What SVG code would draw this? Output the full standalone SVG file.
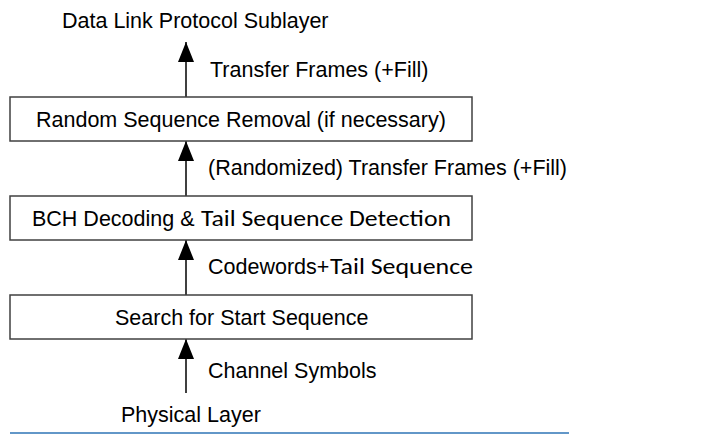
<svg xmlns="http://www.w3.org/2000/svg" width="718" height="434" viewBox="0 0 718 434">
<style>
  .box { fill: #ffffff; stroke: #404040; stroke-width: 1.5; }
  .t { font-family: "Liberation Sans", Arial, sans-serif; font-size: 21.5px; fill: #000000; }
  .c { font-family: Carlito, "Open Sans", "Noto Sans", sans-serif; font-size: 22px; fill: #000000; }
  .line { stroke: #000000; stroke-width: 1.5; fill: none; }
</style>
<defs>
  <marker id="ah" viewBox="0 0 20 16" refX="20" refY="8" markerWidth="20" markerHeight="16" markerUnits="userSpaceOnUse" orient="auto">
    <path d="M0,0 L20,8 L0,16 Z" fill="#000000"/>
  </marker>
</defs>
<rect width="718" height="434" fill="#ffffff"/>
<g id="connectors">
  <line class="line" x1="186" y1="97" x2="186" y2="42" marker-end="url(#ah)"/>
  <line class="line" x1="186" y1="196" x2="186" y2="141" marker-end="url(#ah)"/>
  <line class="line" x1="186" y1="295" x2="186" y2="240" marker-end="url(#ah)"/>
  <line class="line" x1="186" y1="393" x2="186" y2="339" marker-end="url(#ah)"/>
</g>
<g id="label-top">
  <text class="t" x="62" y="28">Data Link Protocol Sublayer</text>
</g>
<g id="label-tf">
  <text class="t" x="210" y="77">Transfer Frames (+Fill)</text>
</g>
<g id="node-random">
  <rect class="box" x="10" y="97" width="462" height="44"/>
  <text class="t" x="36" y="127">Random Sequence Removal (if necessary)</text>
</g>
<g id="label-rtf">
  <text class="t" x="208" y="175">(Randomized) Transfer Frames (+Fill)</text>
</g>
<g id="node-bch">
  <rect class="box" x="10" y="196" width="462" height="44"/>
  <text class="t" x="32" y="226">BCH Decoding &amp;</text>
  <text class="c" x="201" y="226" textLength="250" lengthAdjust="spacingAndGlyphs">Tail Sequence Detection</text>
</g>
<g id="label-cw">
  <text class="t" x="208" y="274">Codewords+</text>
  <text class="c" x="330" y="274" textLength="143" lengthAdjust="spacingAndGlyphs">Tail Sequence</text>
</g>
<g id="node-search">
  <rect class="box" x="10" y="295" width="462" height="44"/>
  <text class="t" x="115" y="325">Search for Start Sequence</text>
</g>
<g id="label-cs">
  <text class="t" x="208" y="378">Channel Symbols</text>
</g>
<g id="label-phys">
  <text class="t" x="121" y="422">Physical Layer</text>
</g>
<line x1="10" y1="433" x2="569" y2="433" stroke="#2e75b6" stroke-width="1.5"/>
</svg>
